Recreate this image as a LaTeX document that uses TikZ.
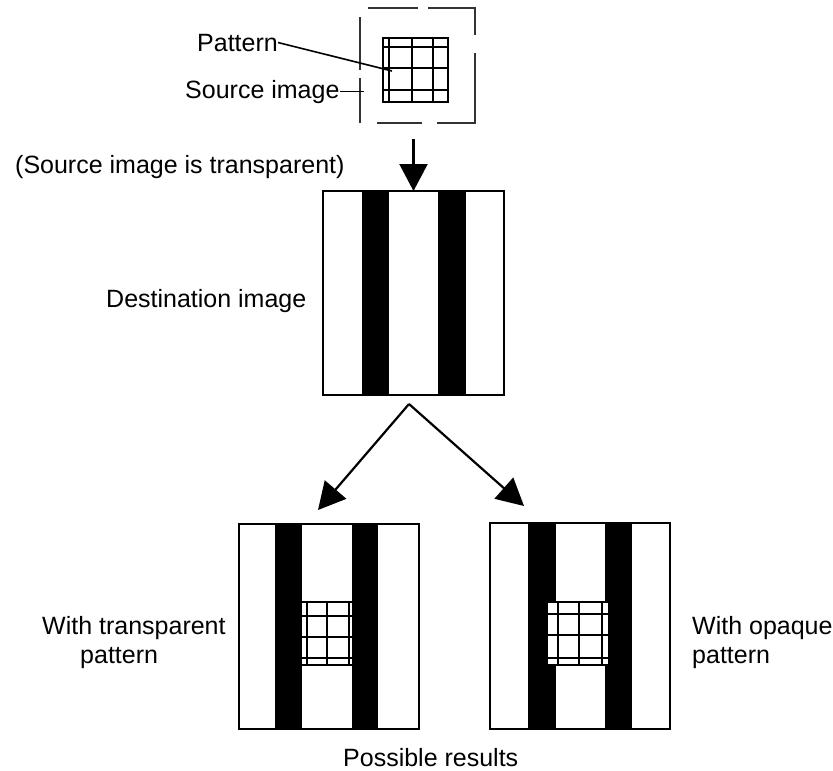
\documentclass[tikz,border=0pt]{standalone}
\usepackage{fontspec}
\setmainfont{Liberation Sans}
\usetikzlibrary{arrows.meta}
\begin{document}
\begin{tikzpicture}[x=1pt,y=-1pt,
  lbl/.style={inner sep=0pt, anchor=base west, font=\fontsize{25}{30}\selectfont},
  imgbox/.style={draw, line width=2.2pt, inner sep=0pt, outer sep=0pt, anchor=north west},
  gridln/.style={line width=2.2pt},
  bigarrow/.style={line width=2.2pt, -{Triangle[length=27pt,width=28pt]}},
  leader/.style={line width=1.6pt},
  srcedge/.style={line width=1.1pt, black!80}]
\useasboundingbox[fill=white] (0,0) rectangle (833,771);

% ---------- source image (dashed) with pattern ----------
\node[inner sep=0pt, outer sep=0pt, minimum width=115pt, minimum height=115pt, anchor=north west] (src) at (360,8) {};
\draw[srcedge] (368,8) -- (418,8) (428,8) -- (475,8) -- (475,35)
  (475,53) -- (475,123) -- (437,123) (422,123) -- (377,123)
  (360,123) -- (360,78) (360,70) -- (360,17);
\node[imgbox, gridln, minimum width=65pt, minimum height=64pt] (srcpat) at (383,38) {};
\draw[gridln] (389,38) -- (389,102) (412,38) -- (412,102) (433,38) -- (433,102)
  (383,47) -- (448,47) (383,68) -- (448,68) (383,90) -- (448,90);

\node[lbl] (patlbl) at (197,51) {Pattern};
\node[lbl] (srclbl) at (185,98) {Source image};
\coordinate (patpt) at (392,71);
\draw[leader] (patlbl.east) -- (patpt);
\draw[leader, shorten >=-4pt] (srclbl.east) -- (srclbl.east -| src.west);

\node[lbl] (transp) at (15,173) {(Source image is transparent)};

% ---------- destination image ----------
\fill (362,191) rectangle (389,395);
\fill (438,191) rectangle (466,395);
\node[imgbox, minimum width=181pt, minimum height=204pt] (dest) at (323,191) {};
\node[lbl] (destlbl) at (106,307) {Destination image};

\draw[bigarrow, shorten <=16pt] (src.south -| dest.north) -- (dest.north);

% ---------- result with transparent pattern ----------
\fill (275,524) rectangle (302,729);
\fill (352,524) rectangle (378,729);
\draw[gridln] (296,602) rectangle (358,665);
\draw[gridln] (307,602) -- (307,665) (327,602) -- (327,665) (349,602) -- (349,665)
  (296,616) -- (358,616) (296,637) -- (358,637) (296,658) -- (358,658);
\node[imgbox, minimum width=180pt, minimum height=205pt] (resT) at (239,524) {};

% ---------- result with opaque pattern ----------
\fill (528,523) rectangle (556,729);
\fill (605,523) rectangle (632,729);
\draw[gridln, fill=white] (547,602) rectangle (609,665);
\draw[gridln] (558,602) -- (558,665) (579,602) -- (579,665) (602,602) -- (602,665)
  (547,614) -- (609,614) (547,635) -- (609,635) (547,658) -- (609,658);
\node[imgbox, minimum width=180pt, minimum height=206pt] (resO) at (490,523) {};

% ---------- arrows to results ----------
\coordinate (split) at (409,404);
\coordinate (tipL) at (318,510);
\coordinate (tipR) at (524,506);
\draw[bigarrow] (split) -- (tipL);
\draw[bigarrow] (split) -- (tipR);

% ---------- labels ----------
\node[lbl] (lblT1) at (42,634) {With transparent};
\node[lbl] (lblT2) at (80,663) {pattern};
\node[lbl] (lblO1) at (692,634) {With opaque};
\node[lbl] (lblO2) at (692,663) {pattern};
\node[lbl] (poss) at (343,766) {Possible results};
\end{tikzpicture}
\end{document}
